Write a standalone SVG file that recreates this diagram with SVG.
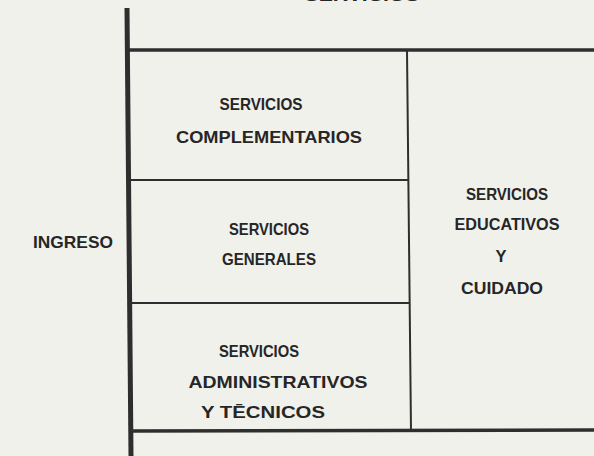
<svg xmlns="http://www.w3.org/2000/svg" width="594" height="456" viewBox="0 0 594 456">
<style>
.t{font-family:"Liberation Sans",Arial,sans-serif;font-weight:bold;font-size:16.5px;fill:#262626;text-anchor:middle}
.w{stroke:#2e2e2e;fill:none;stroke-linecap:butt}
</style>
<rect width="594" height="456" fill="#f1f1ec"/>
<g id="walls">
<line class="w" x1="127" y1="8" x2="131" y2="456" stroke-width="5"/>
<line class="w" x1="127" y1="50" x2="594" y2="50" stroke-width="3.5"/>
<line class="w" x1="129" y1="431" x2="594" y2="430" stroke-width="3.5"/>
<line class="w" x1="407" y1="50" x2="411" y2="431" stroke-width="2"/>
<line class="w" x1="128" y1="180" x2="408" y2="180" stroke-width="2.2"/>
<line class="w" x1="129" y1="303" x2="409" y2="303" stroke-width="2.2"/>
</g>
<g id="top-label"><text class="t" x="362" y="1" textLength="115" lengthAdjust="spacingAndGlyphs">SERVICIOS</text></g>
<g id="ingreso"><text class="t" x="73" y="248" textLength="80" lengthAdjust="spacingAndGlyphs">INGRESO</text></g>
<g id="complementarios">
<text class="t" x="261" y="110" textLength="83" lengthAdjust="spacingAndGlyphs">SERVICIOS</text>
<text class="t" x="269" y="143" textLength="186" lengthAdjust="spacingAndGlyphs">COMPLEMENTARIOS</text>
</g>
<g id="generales">
<text class="t" x="269" y="235" textLength="80" lengthAdjust="spacingAndGlyphs">SERVICIOS</text>
<text class="t" x="269" y="265" textLength="94" lengthAdjust="spacingAndGlyphs">GENERALES</text>
</g>
<g id="administrativos">
<text class="t" x="259" y="357" textLength="80" lengthAdjust="spacingAndGlyphs">SERVICIOS</text>
<text class="t" x="278" y="388" textLength="179" lengthAdjust="spacingAndGlyphs">ADMINISTRATIVOS</text>
<text class="t" x="263" y="418" textLength="124" lengthAdjust="spacingAndGlyphs">Y TĒCNICOS</text>
</g>
<g id="educativos">
<text class="t" x="507" y="200" textLength="82" lengthAdjust="spacingAndGlyphs">SERVICIOS</text>
<text class="t" x="507" y="230" textLength="105" lengthAdjust="spacingAndGlyphs">EDUCATIVOS</text>
<text class="t" x="501" y="262">Y</text>
<text class="t" x="502" y="294" textLength="82" lengthAdjust="spacingAndGlyphs">CUIDADO</text>
</g>
</svg>
